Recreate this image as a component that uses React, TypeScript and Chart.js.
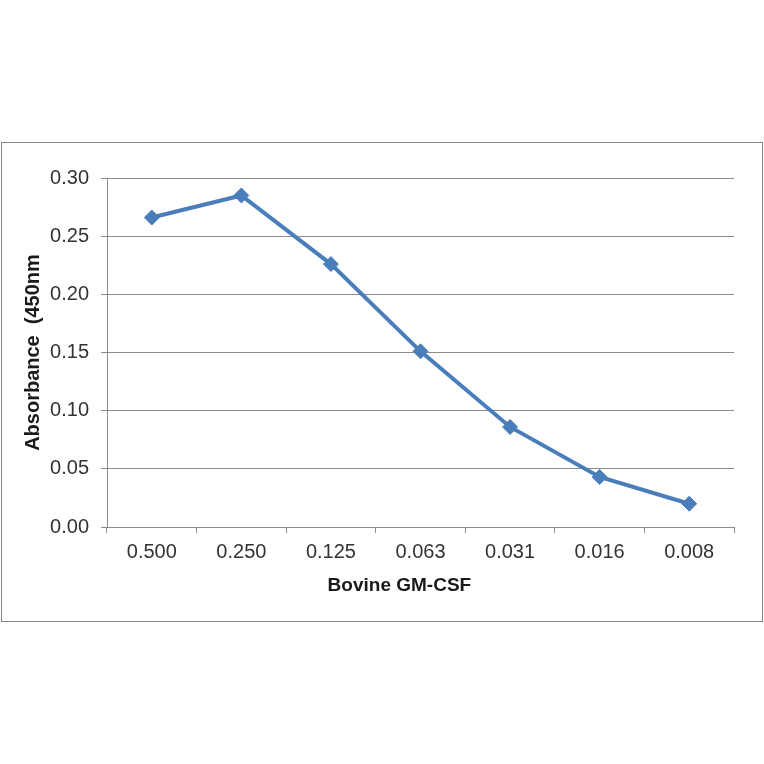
import { useEffect, useRef } from "react";
import { Chart, registerables } from "chart.js";

Chart.register(...registerables);

const dilutions = ["0.500", "0.250", "0.125", "0.063", "0.031", "0.016", "0.008"];
const absorbance = [0.266, 0.285, 0.226, 0.151, 0.086, 0.043, 0.020];
const yTicks = [0, 0.05, 0.1, 0.15, 0.2, 0.25, 0.3];

const lineColor = "#4a7ebb";
const gridColor = "#8c8c8c";
const fontFamily = "Liberation Sans, Arial";

export default function App() {
  const ref = useRef<HTMLCanvasElement>(null);
  const chartRef = useRef<Chart | null>(null);

  useEffect(() => {
    if (!ref.current) return;
    chartRef.current?.destroy();
    chartRef.current = new Chart(ref.current, {
      type: "line",
      data: {
        labels: dilutions,
        datasets: [{
          label: "Absorbance",
          data: absorbance,
          borderColor: lineColor,
          backgroundColor: lineColor,
          borderWidth: 4,
          pointStyle: "rectRot",
          pointRadius: 7.5,
          pointBorderWidth: 1,
          tension: 0,
        }],
      },
      options: {
        responsive: false,
        animation: false,
        layout: { padding: { left: 15, top: 35, right: 28, bottom: 24 } },
        plugins: { legend: { display: false }, tooltip: { enabled: false } },
        scales: {
          x: {
            offset: true,
            grid: { offset: true, drawOnChartArea: false, drawTicks: true, tickLength: 6, color: gridColor },
            border: { color: gridColor, width: 1 },
            ticks: { color: "#333", font: { family: fontFamily, size: 20 }, padding: 7, maxRotation: 0 },
            title: {
              display: true,
              // trailing spaces shift the centred title left, as in the original
              text: "Bovine GM-CSF        ",
              color: "#1a1a1a",
              font: { family: fontFamily, size: 19, weight: "bold" },
              padding: { top: 4, bottom: 0 },
            },
            afterFit: (s: any) => { s.height = 70; },
          },
          y: {
            min: 0,
            max: 0.3,
            afterBuildTicks: (s: any) => { s.ticks = yTicks.map((v) => ({ value: v })); },
            grid: { color: gridColor, tickLength: 6 },
            border: { color: gridColor, width: 1 },
            ticks: {
              color: "#333",
              font: { family: fontFamily, size: 20 },
              padding: 12,
              callback: (v) => Number(v).toFixed(2),
            },
            title: {
              display: true,
              text: "Absorbance  (450nm",
              color: "#1a1a1a",
              font: { family: fontFamily, size: 20, weight: "bold" },
              padding: { top: 4, bottom: 0 },
            },
            afterFit: (s: any) => { s.width = 90; },
          },
        },
      },
    });
    return () => { chartRef.current?.destroy(); };
  }, []);

  return (
    <div style={{ position: "absolute", left: 0, top: 0, width: 764, height: 764, background: "#fff" }}>
      <div style={{ position: "absolute", left: 1, top: 142, width: 760, height: 478, border: "1px solid #878787" }}>
        <canvas ref={ref} width={760} height={478} style={{ display: "block" }} />
      </div>
    </div>
  );
}
